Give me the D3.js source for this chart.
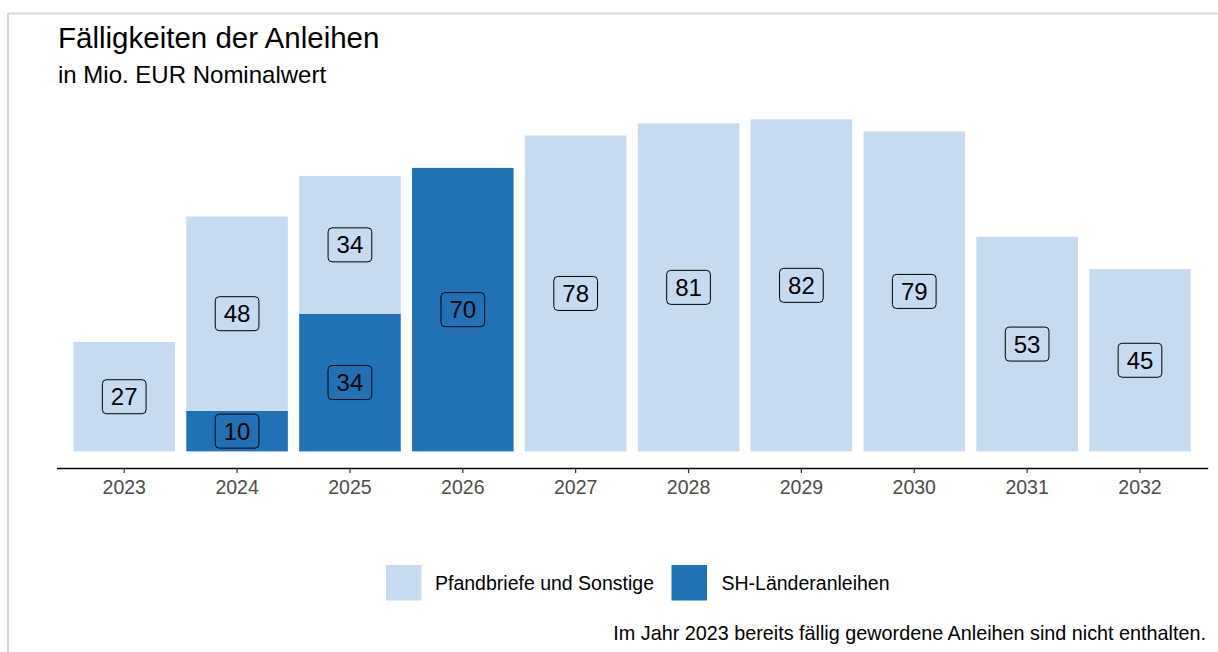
<!DOCTYPE html>
<html>
<head>
<meta charset="utf-8">
<script src="https://cdn.jsdelivr.net/npm/d3@7"></script>
<style>
  html, body { margin: 0; padding: 0; background: #ffffff; }
  svg { display: block; font-family: "Liberation Sans", Arial, sans-serif; }
</style>
</head>
<body>
<svg id="chart" width="1218" height="652"></svg>
<script>
// Maturities per year, in million EUR nominal value
const years = ["2023", "2024", "2025", "2026", "2027", "2028", "2029", "2030", "2031", "2032"];
const pfandbriefe = [27, 48, 34, 0, 78, 81, 82, 79, 53, 45];   // Pfandbriefe und Sonstige
const laender = [0, 10, 34, 70, 0, 0, 0, 0, 0, 0];              // SH-Länderanleihen

const seriesKeys = ["laender", "pfandbriefe"];
const seriesNames = { pfandbriefe: "Pfandbriefe und Sonstige", laender: "SH-Länderanleihen" };
const seriesColors = { pfandbriefe: "#c6dbef", laender: "#2171b5" };
const legendOrder = ["pfandbriefe", "laender"];

const titleText = "Fälligkeiten der Anleihen";
const subtitleText = "in Mio. EUR Nominalwert";
const captionText = "Im Jahr 2023 bereits fällig gewordene Anleihen sind nicht enthalten.";

const rows = years.map((y, i) => ({ year: y, pfandbriefe: pfandbriefe[i], laender: laender[i] }));
const stacked = d3.stack().keys(seriesKeys)(rows);

const svg = d3.select("#chart");

// outer frame (top and left edges visible)
svg.append("line").attr("x1", 8).attr("x2", 1218).attr("y1", 13.5).attr("y2", 13.5)
  .attr("stroke", "#d9d9d9").attr("stroke-width", 2);
svg.append("line").attr("x1", 8).attr("x2", 8).attr("y1", 13).attr("y2", 652)
  .attr("stroke", "#d9d9d9").attr("stroke-width", 2);

// panel geometry
const panel = { left: 56.5, right: 1207.7, top: 102.7, bottom: 468 };
const maxTotal = d3.max(rows, d => d.pfandbriefe + d.laender);

const x = d3.scaleBand()
  .domain(years)
  .range([panel.left, panel.right])
  .paddingInner(0.1)
  .paddingOuter(0.15);

const y = d3.scaleLinear()
  .domain([-0.05 * maxTotal, 1.05 * maxTotal])
  .range([panel.bottom, panel.top]);

// bars
const layers = svg.append("g").selectAll("g")
  .data(stacked)
  .join("g")
  .attr("fill", d => seriesColors[d.key]);

layers.selectAll("rect")
  .data(d => d.filter(s => s[1] - s[0] > 0))
  .join("rect")
  .attr("x", d => x(d.data.year))
  .attr("width", x.bandwidth())
  .attr("y", d => y(d[1]))
  .attr("height", d => y(d[0]) - y(d[1]));

// value labels with rounded boxes
const labelData = [];
stacked.forEach(layer => {
  layer.forEach(s => {
    const v = s[1] - s[0];
    if (v > 0) labelData.push({ year: s.data.year, value: v, mid: (s[0] + s[1]) / 2 });
  });
});

const labels = svg.append("g").selectAll("g")
  .data(labelData)
  .join("g")
  .attr("transform", d => `translate(${x(d.year) + x.bandwidth() / 2},${y(d.mid)})`);

labels.append("text")
  .attr("text-anchor", "middle")
  .attr("dy", "0.36em")
  .attr("font-size", 24)
  .attr("fill", "#000")
  .text(d => d.value);

labels.each(function () {
  const g = d3.select(this);
  const bb = g.select("text").node().getBBox();
  const w = bb.width + 17, h = 34;
  g.insert("rect", "text")
    .attr("x", -w / 2).attr("y", -h / 2)
    .attr("width", w).attr("height", h)
    .attr("rx", 4).attr("ry", 4)
    .attr("fill", "none")
    .attr("stroke", "#000")
    .attr("stroke-width", 1);
});

// x axis
const xAxis = svg.append("g")
  .attr("transform", `translate(0,${panel.bottom})`)
  .call(d3.axisBottom(x).tickSize(5).tickSizeOuter(0).tickPadding(7));
xAxis.select(".domain").attr("stroke", "#000").attr("stroke-width", 1.6);
xAxis.selectAll(".tick line").attr("stroke", "#333").attr("stroke-width", 1.2);
xAxis.selectAll(".tick text")
  .attr("font-size", 19.5)
  .attr("fill", "#4d4d4d")
  .attr("font-family", "Liberation Sans, Arial, sans-serif");

// title and subtitle
svg.append("text").attr("x", 58).attr("y", 48)
  .attr("font-size", 29.5).attr("fill", "#000").text(titleText);
svg.append("text").attr("x", 58).attr("y", 83)
  .attr("font-size", 24).attr("fill", "#000").text(subtitleText);

// legend
const legendPos = { pfandbriefe: { sx: 386, tx: 435 }, laender: { sx: 671.5, tx: 721.5 } };
const legend = svg.append("g").selectAll("g")
  .data(legendOrder)
  .join("g");
legend.append("rect")
  .attr("x", d => legendPos[d].sx).attr("y", 565)
  .attr("width", 35.5).attr("height", 35.5)
  .attr("fill", d => seriesColors[d]);
legend.append("text")
  .attr("x", d => legendPos[d].tx).attr("y", 583)
  .attr("dy", "0.36em")
  .attr("font-size", 19.5).attr("fill", "#000")
  .text(d => seriesNames[d]);

// caption
svg.append("text").attr("x", 1206).attr("y", 640)
  .attr("text-anchor", "end")
  .attr("font-size", 19.8).attr("fill", "#000")
  .text(captionText);
</script>
</body>
</html>
